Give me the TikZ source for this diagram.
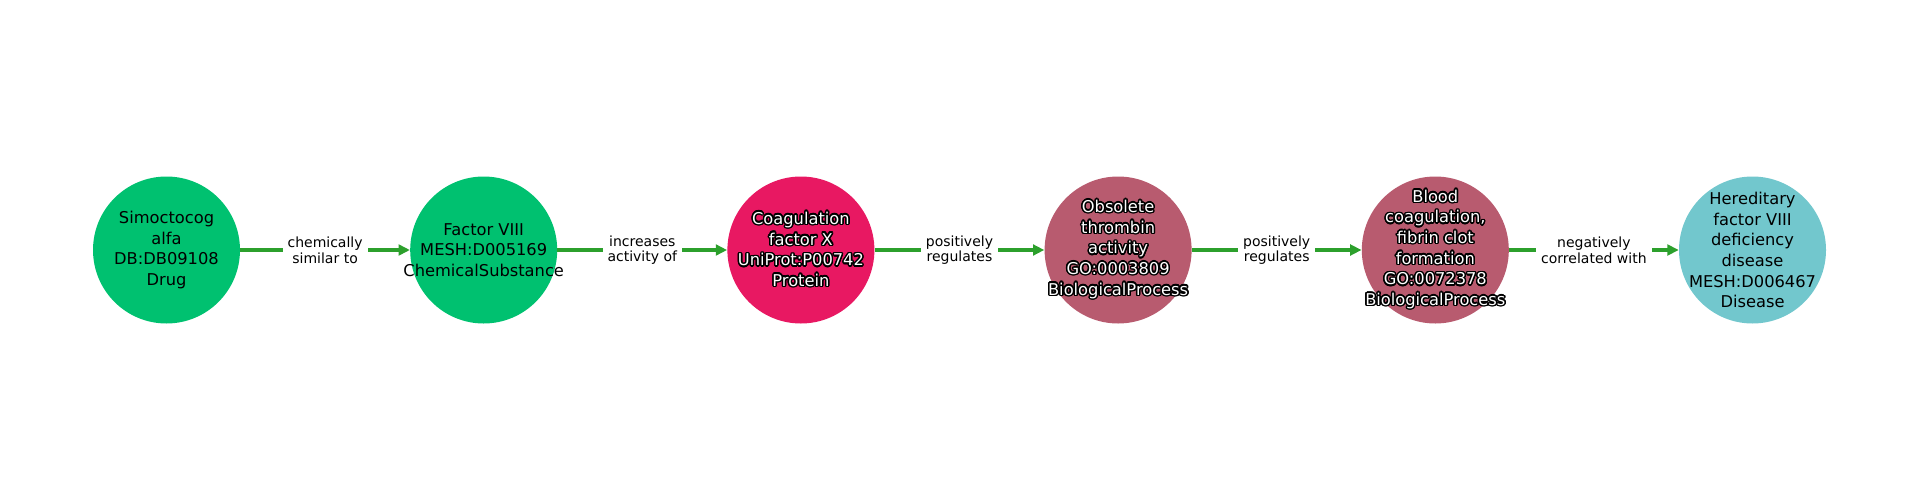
\documentclass[tikz,border=0pt]{standalone}
\usepackage{fontspec}
\setmainfont{DejaVu Sans}
\usepackage[copies]{contour}
\contourlength{1.1pt}
\usetikzlibrary{arrows.meta}

\newcommand{\outl}[1]{\contour{black}{#1}}

\begin{document}
\begin{tikzpicture}[x=0.75pt,y=0.75pt,yscale=-1,xscale=1,
  entity/.style={circle, minimum size=110.25pt, inner sep=0pt},
  entitytext/.style={inner sep=0pt, align=center, font=\fontsize{12.2}{15.5}\selectfont},
  relation/.style={color={rgb, 255:red, 44; green, 160; blue, 44 }, line width=3.2pt, -{Triangle[length=8.5pt,width=8pt]}},
  rellabel/.style={fill=white, inner sep=3.75pt, align=center, text=black, font=\fontsize{10.5}{11.8}\selectfont}
]
%set diagram left start at 0, and has height of 500
\path [use as bounding box] (0,0) rectangle (1920,500);

%Shape: Circle
\draw (166.5,250) node [entity, fill={rgb, 255:red, 0; green, 193; blue, 112 }, label={[entitytext]center:Simoctocog\\alfa\\DB:DB09108\\Drug}] (drug) {};
%Shape: Circle
\draw (483.7,250) node [entity, fill={rgb, 255:red, 0; green, 193; blue, 112 }, label={[entitytext]center:Factor VIII\\MESH:D005169\\ChemicalSubstance}] (factor) {};
%Shape: Circle
\draw (800.9,250) node [entity, fill={rgb, 255:red, 232; green, 24; blue, 98 }, label={[entitytext, text=white]center:\outl{Coagulation}\\\outl{factor X}\\\outl{UniProt:P00742}\\\outl{Protein}}] (protein) {};
%Shape: Circle
\draw (1118.1,250) node [entity, fill={rgb, 255:red, 184; green, 91; blue, 111 }, label={[entitytext, text=white]center:\outl{Obsolete}\\\outl{thrombin}\\\outl{activity}\\\outl{GO:0003809}\\\outl{BiologicalProcess}}] (thrombin) {};
%Shape: Circle
\draw (1435.3,250) node [entity, fill={rgb, 255:red, 184; green, 91; blue, 111 }, label={[entitytext, text=white]center:\outl{Blood}\\\outl{coagulation,}\\\outl{fibrin clot}\\\outl{formation}\\\outl{GO:0072378}\\\outl{BiologicalProcess}}] (clot) {};
%Shape: Circle
\draw (1752.5,250) node [entity, fill={rgb, 255:red, 114; green, 199; blue, 205 }, label={[entitytext]center:Hereditary\\factor VIII\\deficiency\\disease\\MESH:D006467\\Disease}] (disease) {};

%Straight Lines
\draw [relation] (drug) -- node [rellabel] (l1) {chemically\\similar to} (factor);
%Straight Lines
\draw [relation] (factor) -- node [rellabel] (l2) {increases\\activity of} (protein);
%Straight Lines
\draw [relation] (protein) -- node [rellabel] (l3) {positively\\regulates} (thrombin);
%Straight Lines
\draw [relation] (thrombin) -- node [rellabel] (l4) {positively\\regulates} (clot);
%Straight Lines
\draw [relation] (clot) -- node [rellabel] (l5) {negatively\\correlated with} (disease);

\end{tikzpicture}
\end{document}
